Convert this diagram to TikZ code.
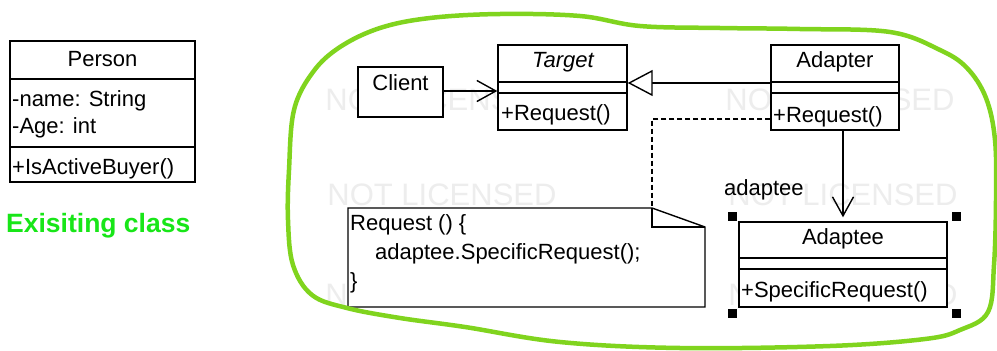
\documentclass[tikz,border=0pt]{standalone}
\usepackage{fontspec}
\setmainfont{Liberation Sans}
\usetikzlibrary{arrows.meta}
\definecolor{hilite}{RGB}{128,212,30}
\definecolor{labelgreen}{RGB}{24,230,24}
\definecolor{wmark}{gray}{0.93}
\begin{document}
\begin{tikzpicture}[x=1pt,y=-1pt,
  umlbox/.style={draw, line width=1.4pt, fill=white, rectangle, inner sep=0pt},
  compsep/.style={line width=1.4pt},
  txt/.style={inner sep=0pt, font=\fontsize{22}{25}\selectfont},
  wm/.style={inner sep=0pt, text=wmark, font=\fontsize{31}{34}\selectfont},
  handle/.style={fill=black, minimum size=9pt, inner sep=0pt, rectangle},
  assoc/.style={line width=1.4pt, -{Straight Barb[length=19pt,width=21pt,line width=1.4pt]}},
  gen/.style={line width=1.4pt, -{Triangle[open,fill=white,length=25pt,width=26pt,line width=1.4pt]}},
  dep/.style={line width=1.4pt, dash pattern=on 5pt off 3pt}]
\useasboundingbox (0,0) rectangle (997,351);
\fill[white] (0,0) rectangle (997,351);

% faint watermark behind the diagram
\foreach \px/\py in {440/100, 840/100, 442/195, 843/195, 440/295, 843/295}
  \node[wm] at (\px,\py) {NOT LICENSED};

% existing class
\node[umlbox, minimum width=185pt, minimum height=141pt] (person) at (102.5,111.5) {};
\draw[compsep] (person.west |- 0,79) -- (person.east |- 0,79);
\draw[compsep] (person.west |- 0,147) -- (person.east |- 0,147);
\node[txt, anchor=base] (personname) at (102.5,66) {Person};
\node[txt, anchor=base west] (pattr1) at (12,106) {-name: String};
\node[txt, anchor=base west] (pattr2) at (12,133) {-Age: int};
\node[txt, anchor=base west] (pop) at (12,174) {+IsActiveBuyer()};
\node[inner sep=0pt, anchor=base west, text=labelgreen, font=\fontsize{26.5}{30}\selectfont\bfseries] (caption) at (6,232) {Exisiting class};

% client
\node[umlbox, minimum width=85pt, minimum height=50pt] (client) at (400.5,92) {};
\node[txt, anchor=base] (clientname) at (400.5,90) {Client};

% target
\node[umlbox, minimum width=129pt, minimum height=85pt] (target) at (562.5,87.5) {};
\draw[compsep] (target.west |- 0,82) -- (target.east |- 0,82);
\draw[compsep] (target.west |- 0,93) -- (target.east |- 0,93);
\node[txt, anchor=base] (targetname) at (563,67) {\itshape Target};
\node[txt, anchor=base west] (targetop) at (501,120) {+Request()};

% adapter
\node[umlbox, minimum width=128pt, minimum height=85pt] (adapter) at (835,87.5) {};
\draw[compsep] (adapter.west |- 0,82) -- (adapter.east |- 0,82);
\draw[compsep] (adapter.west |- 0,93) -- (adapter.east |- 0,93);
\node[txt, anchor=base] (adaptername) at (835,67) {Adapter};
\node[txt, anchor=base west] (adapterop) at (773,122) {+Request()};

% adaptee with selection handles
\node[umlbox, minimum width=208pt, minimum height=85pt] (adaptee) at (843,264.5) {};
\draw[compsep] (adaptee.west |- 0,258) -- (adaptee.east |- 0,258);
\draw[compsep] (adaptee.west |- 0,269) -- (adaptee.east |- 0,269);
\node[txt, anchor=base] (adapteename) at (843,244) {Adaptee};
\node[txt, anchor=base west] (adapteeop) at (741,297) {+SpecificRequest()};
\node[handle] (h1) at (732,216) {};
\node[handle] (h2) at (956,216) {};
\node[handle] (h3) at (732,313) {};
\node[handle] (h4) at (956,313) {};
\node[txt, anchor=base west] (role) at (724,195) {adaptee};

% note with folded corner
\coordinate (fold) at (652,208);
\draw[line width=1.4pt, fill=white] (348,208) -- (fold) -- (705,227) -- (705,307) -- (348,307) -- cycle;
\draw[line width=1.4pt] (fold) -- (652,227) -- (705,227);
\node[txt, anchor=base west] (note1) at (350,230) {Request () \{};
\node[txt, anchor=base west] (note2) at (375,259) {adaptee.SpecificRequest();};
\node[txt, anchor=base west] (note3) at (350,288) {\}};

% connectors
\draw[assoc] (client.east |- 0,91) -- (target.west |- 0,91);
\draw[gen] (adapter.west |- 0,83) -- (target.east |- 0,83);
\draw[dep] (adapter.west |- 0,119) -| (fold);
\draw[assoc] (adapter.south -| adaptee.north) -- ([yshift=4pt]adaptee.north);

% hand-drawn highlight loop
\draw[hilite, line width=4.5pt, line join=round]
  plot[smooth cycle, tension=0.6] coordinates {
    (289,170) (294,110) (313,72) (340,47) (380,28) (430,18) (500,14) (580,16)
    (640,26) (720,28) (800,29) (890,32) (940,50) (967,68) (986,98) (995,140)
    (996,200) (994,265) (988,312) (960,330) (925,339) (830,346) (680,348)
    (560,342) (465,327) (400,318) (347,308) (312,295) (293,265) (288,220)};
\end{tikzpicture}
\end{document}
